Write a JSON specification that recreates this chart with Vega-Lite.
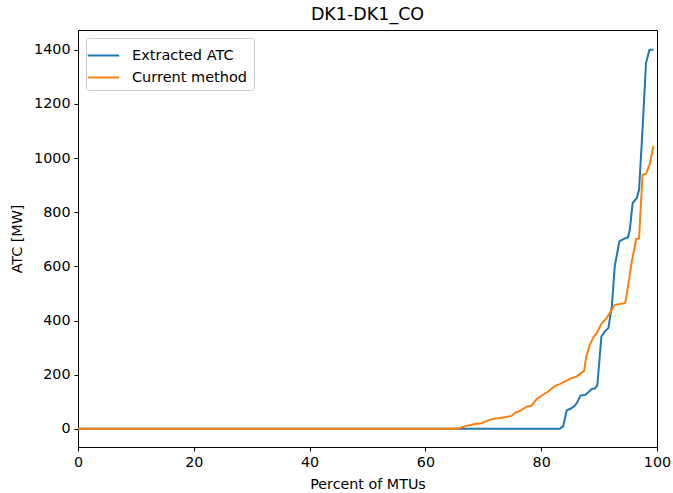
{
  "$schema": "https://vega.github.io/schema/vega-lite/v6.json",
  "autosize": "none",
  "width": 579,
  "height": 417,
  "padding": {"left": 78, "top": 30, "right": 16, "bottom": 46},
  "background": "white",
  "config": {
    "font": "DejaVu Sans",
    "view": {"stroke": "black", "strokeWidth": 1},
    "axis": {"grid": false, "domainColor": "black", "tickColor": "black", "tickSize": 4, "labelFontSize": 14.3, "labelColor": "black", "titleFontSize": 14.3, "titleFontWeight": "normal", "titleColor": "black", "labelPadding": 4, "labelFlush": false}
  },
  "title": {"text": "DK1-DK1_CO", "fontSize": 17.5, "fontWeight": "normal", "offset": 7, "color": "black"},
  "data": {"values": [
    {"s":"Extracted ATC","x":0,"y":0},{"s":"Extracted ATC","x":83.2,"y":0},{"s":"Extracted ATC","x":83.8,"y":10},{"s":"Extracted ATC","x":84.4,"y":68},{"s":"Extracted ATC","x":85.2,"y":76},{"s":"Extracted ATC","x":85.8,"y":85},{"s":"Extracted ATC","x":86.2,"y":97},{"s":"Extracted ATC","x":86.8,"y":123},{"s":"Extracted ATC","x":87.6,"y":126},{"s":"Extracted ATC","x":88.1,"y":134},{"s":"Extracted ATC","x":88.7,"y":147},{"s":"Extracted ATC","x":89.3,"y":150},{"s":"Extracted ATC","x":89.7,"y":162},{"s":"Extracted ATC","x":90.4,"y":341},{"s":"Extracted ATC","x":91.0,"y":360},{"s":"Extracted ATC","x":91.6,"y":372},{"s":"Extracted ATC","x":92.2,"y":452},{"s":"Extracted ATC","x":92.7,"y":600},{"s":"Extracted ATC","x":93.5,"y":692},{"s":"Extracted ATC","x":94.2,"y":701},{"s":"Extracted ATC","x":95.0,"y":708},{"s":"Extracted ATC","x":95.3,"y":735},{"s":"Extracted ATC","x":95.8,"y":834},{"s":"Extracted ATC","x":96.5,"y":852},{"s":"Extracted ATC","x":96.9,"y":883},{"s":"Extracted ATC","x":97.5,"y":1105},{"s":"Extracted ATC","x":98.1,"y":1351},{"s":"Extracted ATC","x":98.7,"y":1400},{"s":"Extracted ATC","x":99.4,"y":1400},
    {"s":"Current method","x":0,"y":0},{"s":"Current method","x":65.5,"y":0},{"s":"Current method","x":66.0,"y":4},{"s":"Current method","x":67.1,"y":11},{"s":"Current method","x":68.0,"y":15},{"s":"Current method","x":68.5,"y":18},{"s":"Current method","x":69.7,"y":21},{"s":"Current method","x":70.3,"y":27},{"s":"Current method","x":71.4,"y":36},{"s":"Current method","x":72.6,"y":39},{"s":"Current method","x":73.7,"y":43},{"s":"Current method","x":74.9,"y":48},{"s":"Current method","x":75.5,"y":60},{"s":"Current method","x":76.3,"y":66},{"s":"Current method","x":77.5,"y":82},{"s":"Current method","x":78.3,"y":85},{"s":"Current method","x":79.2,"y":110},{"s":"Current method","x":80.3,"y":126},{"s":"Current method","x":81.2,"y":138},{"s":"Current method","x":82.4,"y":159},{"s":"Current method","x":83.2,"y":165},{"s":"Current method","x":84.4,"y":178},{"s":"Current method","x":85.2,"y":187},{"s":"Current method","x":86.1,"y":193},{"s":"Current method","x":86.7,"y":203},{"s":"Current method","x":87.4,"y":214},{"s":"Current method","x":87.8,"y":267},{"s":"Current method","x":88.4,"y":310},{"s":"Current method","x":89.1,"y":341},{"s":"Current method","x":89.6,"y":353},{"s":"Current method","x":90.4,"y":388},{"s":"Current method","x":91.3,"y":409},{"s":"Current method","x":91.9,"y":430},{"s":"Current method","x":92.7,"y":458},{"s":"Current method","x":94.5,"y":464},{"s":"Current method","x":95.0,"y":526},{"s":"Current method","x":95.6,"y":612},{"s":"Current method","x":96.4,"y":701},{"s":"Current method","x":96.9,"y":703},{"s":"Current method","x":97.5,"y":938},{"s":"Current method","x":98.1,"y":942},{"s":"Current method","x":98.7,"y":975},{"s":"Current method","x":99.4,"y":1045}
  ]},
  "mark": {"type": "line", "strokeWidth": 2, "clip": true},
  "encoding": {
    "x": {"field": "x", "type": "quantitative", "title": "Percent of MTUs", "scale": {"domain": [0, 100], "nice": false}, "axis": {"values": [0,20,40,60,80,100], "titlePadding": 8}},
    "y": {"field": "y", "type": "quantitative", "title": "ATC [MW]", "scale": {"domain": [-67, 1473], "nice": false, "zero": false}, "axis": {"values": [0,200,400,600,800,1000,1200,1400], "format": "d", "titlePadding": 9}},
    "color": {"field": "s", "type": "nominal", "scale": {"domain": ["Extracted ATC", "Current method"], "range": ["#1f77b4", "#ff7f0e"]},
      "legend": {"title": null, "orient": "top-left", "offset": 8, "fillColor": "white", "strokeColor": "#cccccc", "cornerRadius": 3, "padding": 6, "symbolType": "M-1.5,0H1.5", "symbolSize": 441, "symbolStrokeWidth": 2, "labelFontSize": 14.5, "labelColor": "black", "rowPadding": 4, "labelOffset": 17}},
    "order": {"field": "x", "type": "quantitative"}
  }
}
